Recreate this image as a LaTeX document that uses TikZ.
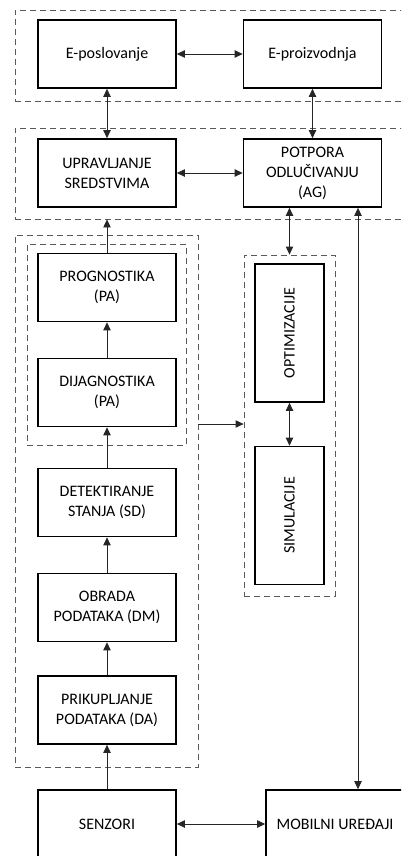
\documentclass[tikz,border=0pt]{standalone}
\usepackage{fontspec}
\setmainfont{Carlito}
\usetikzlibrary{arrows.meta}
\begin{document}
\begin{tikzpicture}[x=0.75pt,y=-0.75pt,
  blk/.style={draw=black,line width=1.2pt,fill=white,minimum width=103.5pt,minimum height=51pt,inner sep=1pt,align=center,font=\fontsize{12}{15}\selectfont},
  vblk/.style={blk,minimum width=51.75pt,minimum height=103.5pt},
  grp/.style={draw=black!65,dashed,dash pattern=on 4.5pt off 3pt,line width=0.6pt,inner sep=0pt},
  con/.style={draw=black!85,line width=0.6pt,-{Triangle[length=6pt,width=5.5pt]}},
  bcon/.style={con,{Triangle[length=6pt,width=5.5pt]}-{Triangle[length=6pt,width=5.5pt]}}]
\useasboundingbox (0,0) rectangle (401,856);
\clip (0,0) rectangle (401,856);
% groups
\node[grp,minimum width=292.5pt,minimum height=68.25pt] (G1) at (210,55.5) {};
\node[grp,minimum width=292.5pt,minimum height=68.25pt] (G2) at (210,173.5) {};
\node[grp,minimum width=137.25pt,minimum height=399pt] (LG) at (106.5,501) {};
\node[grp,minimum width=119.25pt,minimum height=150.75pt] (IG) at (106.5,344.5) {};
\node[grp,minimum width=68.25pt,minimum height=255.75pt] (OG) at (289.5,425.5) {};
% blocks
\node[blk] (Epos) at (107,54) {E-poslovanje};
\node[blk] (Epro) at (312.5,54) {E-proizvodnja};
\node[blk] (Upr) at (107,173) {UPRAVLJANJE\\SREDSTVIMA};
\node[blk] (Pot) at (312.5,173) {POTPORA\\ODLUČIVANJU\\(AG)};
\node[blk] (Prog) at (107,287.5) {PROGNOSTIKA\\(PA)};
\node[blk] (Dij) at (107,392.5) {DIJAGNOSTIKA\\(PA)};
\node[blk] (Det) at (107,502.5) {DETEKTIRANJE\\STANJA (SD)};
\node[blk] (Obr) at (107,607.5) {OBRADA\\PODATAKA (DM)};
\node[blk] (Pri) at (107,710) {PRIKUPLJANJE\\PODATAKA (DA)};
\node[blk] (Sen) at (107,824) {SENZORI};
\node[blk] (Mob) at (335,824) {MOBILNI UREĐAJI};
\node[vblk] (Opt) at (289.5,333) {\rotatebox{90}{OPTIMIZACIJE}};
\node[vblk] (Sim) at (289.5,515.5) {\rotatebox{90}{SIMULACIJE}};
% connectors
\draw[bcon] (Epos) -- (Epro);
\draw[bcon] (Epos) -- (Upr);
\draw[bcon] (Epro) -- (Pot);
\draw[bcon] (Upr) -- (Pot);
\draw[con] (Prog.north) -- (Prog.north |- G2.south);
\draw[con] (Dij) -- (Prog);
\draw[con] (Det) -- (Dij);
\draw[con] (Obr) -- (Det);
\draw[con] (Pri) -- (Obr);
\draw[con] (Sen) -- (Pri);
\draw[bcon] (Sen) -- (Mob);
\draw[bcon] (Pot.south -| OG.north) -- (OG.north);
\draw[bcon] (Opt) -- (Sim);
\coordinate (m) at (358,0);
\draw[bcon] (m |- Pot.south) -- (m |- Mob.north);
\coordinate (h) at (0,424);
\draw[con] (LG.east |- h) -- (OG.west |- h);
\end{tikzpicture}
\end{document}
